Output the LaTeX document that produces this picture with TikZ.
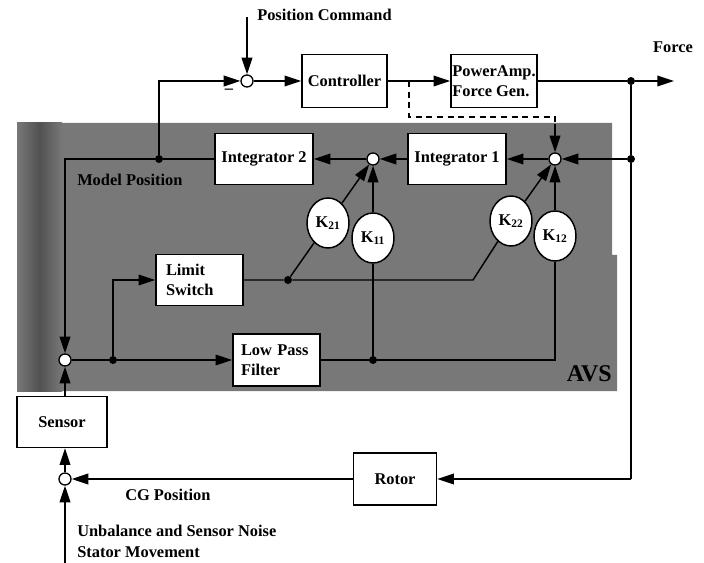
\documentclass[tikz,border=0pt]{standalone}
\usepackage{fontspec}
\setmainfont{Liberation Serif}
\usetikzlibrary{arrows.meta,shapes.geometric}
\definecolor{avsg}{RGB}{120,120,120}
\begin{document}
\begin{tikzpicture}[x=0.75pt,y=-0.75pt,
 every node/.style={font=\bfseries\fontsize{12.3}{15}\selectfont},
 blk/.style={draw, line width=1.1pt, fill=white, inner sep=0pt, align=center},
 gain/.style={draw, ellipse, line width=1.1pt, fill=white, minimum width=31.5pt, minimum height=37.5pt, inner sep=0pt},
 sumj/.style={draw, circle, line width=1pt, fill=white, minimum size=9pt, inner sep=0pt},
 dotj/.style={circle, fill=black, minimum size=6pt, inner sep=0pt},
 wire/.style={line width=1.1pt},
 arr/.style={wire, -{Triangle[length=12.5pt,width=8pt]}},
 dashwire/.style={wire, dash pattern=on 4.5pt off 3.5pt},
 lbl/.style={inner sep=0pt}
]
\useasboundingbox (0,0) rectangle (704,563);
% AVS background
\fill[avsg] (17,123) -- (612,123) -- (612,255) -- (617,255) -- (617,391) -- (17,391) -- cycle;
\shade[left color=avsg, right color=avsg, middle color=black!68] (17,123) rectangle (62,391);

% top row
\node[sumj] (j1) at (247,81) {};
\coordinate (pc) at (247,17);
\node[lbl, anchor=west] (pctext) at (257,15) {Position Command};
\node[lbl] (minus) at (229,91) {\textendash};
\node[blk, minimum width=63.75pt, minimum height=39.75pt] (ctrl) at (344.5,81) {Controller};
\node[blk, minimum width=64.5pt, minimum height=39.75pt, align=left] (pa) at (494,81) {PowerAmp.\\Force Gen.};
\node[dotj] (fdot) at (631,81) {};
\coordinate (fend) at (674,81);
\node[lbl] (force) at (673,47) {Force};
\coordinate (br) at (409,81);

% integrator row
\node[blk, minimum width=73.5pt, minimum height=38.25pt] (int2) at (264,159) {Integrator 2};
\node[blk, minimum width=73.5pt, minimum height=38.25pt] (int1) at (457,159) {Integrator 1};
\node[sumj] (j2) at (373,159) {};
\node[sumj] (j3) at (555,159) {};
\node[dotj] (rdot) at (631,159) {};
\node[dotj] (mdot) at (159,159) {};
\coordinate (lc) at (65,159);
\node[lbl, anchor=west] (mpos) at (77,180) {Model Position};
\coordinate (dc1) at (409,117);
\coordinate (dc2) at (555,117);
\coordinate (dc3) at (555,124);

% gains
\node[gain] (k21) at (328,223) {K\textsubscript{21}};
\node[gain] (k11) at (373,238) {K\textsubscript{11}};
\node[gain] (k22) at (511,221) {K\textsubscript{22}};
\node[gain] (k12) at (555,236) {K\textsubscript{12}};

% lower AVS
\node[blk, text width=50.25pt, inner xsep=7.5pt, align=left, minimum height=38.25pt] (ls) at (199.5,280) {Limit\\Switch};
\node[blk, text width=53.25pt, inner xsep=6pt, align=left, minimum height=39pt] (lpf) at (276.5,360) {Low Pass\\Filter};
\node[sumj] (j4) at (65,360) {};
\node[dotj] (ldot) at (113,360) {};
\node[dotj] (kdot1) at (288,280) {};
\coordinate (kbend) at (473,280);
\node[dotj] (kdot2) at (373,360) {};
\coordinate (k12c) at (555,360);
\node[lbl, anchor=east, font=\bfseries\fontsize{18}{20}\selectfont] (avs) at (612,374) {AVS};

% bottom
\node[blk, minimum width=67.5pt, minimum height=38.25pt] (sens) at (62,422) {Sensor};
\node[sumj] (j5) at (65,479) {};
\node[blk, minimum width=62.25pt, minimum height=39pt] (rot) at (395,479) {Rotor};
\coordinate (rc) at (631,479);
\coordinate (nin) at (65,563);
\coordinate (stop) at (j4 |- sens.north);
\coordinate (sbot) at (j5 |- sens.south);
\node[lbl, anchor=west] (cg) at (125,495) {CG Position};
\node[lbl, anchor=west] (unb) at (77,531) {Unbalance and Sensor Noise};
\node[lbl, anchor=west] (stat) at (77,552) {Stator Movement};

% connectors
\draw[arr] (pc) -- (j1);
\draw[arr] (j1) -- (ctrl);
\draw[arr] (ctrl) -- (pa);
\draw[wire] (pa) -- (fdot);
\draw[arr] (fdot) -- (fend);
\draw[dashwire] (br) -- (dc1) -- (dc2) -- (dc3);
\draw[arr] (dc3) -- (j3);
\draw[wire] (fdot) -- (rdot) -- (rc);
\draw[arr] (rc) -- (rot);
\draw[arr] (rdot) -- (j3);
\draw[arr] (j3) -- (int1);
\draw[arr] (int1) -- (j2);
\draw[arr] (j2) -- (int2);
\draw[wire] (int2) -- (mdot);
\draw[arr] (mdot) |- (j1);
\draw[arr] (mdot) -- (lc) -- (j4);
\draw[arr] (k21) -- (j2);
\draw[arr] (k11) -- (j2);
\draw[arr] (k22) -- (j3);
\draw[arr] (k12) -- (j3);
\draw[wire] (j4) -- (ldot);
\draw[arr] (ldot) -- (lpf);
\draw[arr] (ldot) |- (ls);
\draw[wire] (ls) -- (kdot1) -- (kbend) -- (k22);
\draw[wire] (kdot1) -- (k21);
\draw[wire] (lpf) -- (kdot2) -- (k12c) -- (k12);
\draw[wire] (k11) -- (kdot2);
\draw[arr] (stop) -- (j4);
\draw[arr] (j5) -- (sbot);
\draw[arr] (nin) -- (j5);
\draw[arr] (rot) -- (j5);
\end{tikzpicture}
\end{document}
